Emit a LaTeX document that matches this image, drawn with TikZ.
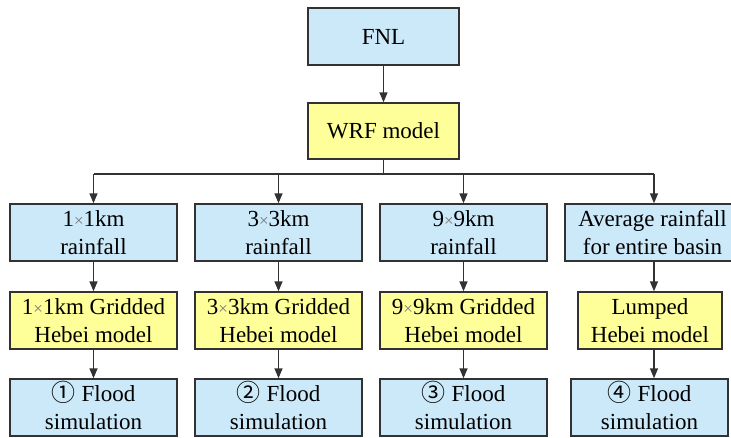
\documentclass[tikz,border=0pt]{standalone}
\usepackage{fontspec}
\setmainfont{Liberation Serif}
\newfontfamily\symfont{Noto Sans CJK SC}
\usetikzlibrary{arrows.meta}
\definecolor{boxblue}{RGB}{204,233,250}
\definecolor{boxyellow}{RGB}{255,255,153}
\definecolor{linegray}{RGB}{50,50,50}
\definecolor{timesgray}{RGB}{120,120,120}
\newcommand{\cnum}[1]{\smash{\symfont\fontsize{24}{24}\selectfont #1}\hspace{6pt}}
\newcommand{\tms}{{\color{timesgray}\fontsize{17}{17}\selectfont\texttimes}}
\begin{document}
\begin{tikzpicture}[x=1pt,y=-1pt,
  basebox/.style={rectangle, draw=linegray, line width=1.4pt, inner sep=0pt,
    minimum height=57pt, align=center, text=black,
    font=\fontsize{23}{27.6}\selectfont},
  bluebox/.style={basebox, fill=boxblue},
  yellowbox/.style={basebox, fill=boxyellow},
  conn/.style={draw=linegray, line width=1.4pt},
  arr/.style={conn, -{Triangle[length=10pt,width=8pt]}}
]
\clip (0,0) rectangle (731,437);
\fill[white] (0,0) rectangle (731,437);

\node[bluebox, minimum width=151pt] (fnl) at (383.5,36.5) {FNL};
\node[yellowbox, minimum width=151pt, minimum height=56pt] (wrf) at (383.5,131) {WRF model};

\node[bluebox, minimum width=167pt] (r1) at (93.5,232.5) {1\tms1km\\rainfall};
\node[bluebox, minimum width=167pt] (r2) at (278.5,232.5) {3\tms3km\\rainfall};
\node[bluebox, minimum width=167pt] (r3) at (463.5,232.5) {9\tms9km\\rainfall};
\node[bluebox, minimum width=175pt] (r4) at (652.5,232.5) {Average rainfall\\for entire basin};

\node[yellowbox, minimum width=167pt] (m1) at (93.5,320.5) {1\tms1km Gridded\\Hebei model};
\node[yellowbox, minimum width=167pt] (m2) at (278.5,320.5) {3\tms3km Gridded\\Hebei model};
\node[yellowbox, minimum width=167pt] (m3) at (463.5,320.5) {9\tms9km Gridded\\Hebei model};
\node[yellowbox, minimum width=144pt] (m4) at (650,320.5) {Lumped\\Hebei model};

\node[bluebox, minimum width=167pt] (f1) at (93.5,407.5) {\cnum{①}Flood\\simulation};
\node[bluebox, minimum width=167pt] (f2) at (278.5,407.5) {\cnum{②}Flood\\simulation};
\node[bluebox, minimum width=167pt] (f3) at (463.5,407.5) {\cnum{③}Flood\\simulation};
\node[bluebox, minimum width=157pt] (f4) at (649.5,407.5) {\cnum{④}Flood\\simulation};

\coordinate (bus) at (383.5,174);
\coordinate (busL) at (93.5,174);
\coordinate (busR) at (654,174);

\draw[arr] (fnl.south) -- (wrf.north);
\draw[conn] (wrf.south) -- (bus);
\draw[conn] (busL) -- (busR);
\draw[arr] (busL) -- (r1.north);
\draw[arr] (bus -| r2.north) -- (r2.north);
\draw[arr] (bus -| r3.north) -- (r3.north);
\draw[arr] (busR) -- (busR |- r4.north);

\draw[arr] (r1.south) -- (m1.north);
\draw[arr] (r2.south) -- (m2.north);
\draw[arr] (r3.south) -- (m3.north);
\draw[arr] (r4.south -| busR) -- (busR |- m4.north);

\draw[arr] (m1.south) -- (f1.north);
\draw[arr] (m2.south) -- (f2.north);
\draw[arr] (m3.south) -- (f3.north);
\draw[arr] (m4.south -| busR) -- (busR |- f4.north);
\end{tikzpicture}
\end{document}
